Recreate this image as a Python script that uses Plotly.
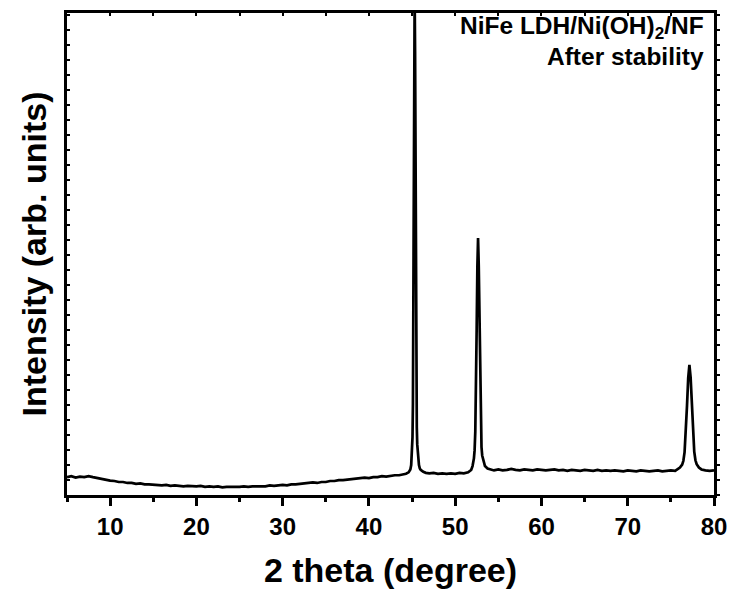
import plotly.graph_objects as go

# 2θ (degree) and intensity (arb. units, 0-1000 scale)
two_theta = [
    5.0, 5.5, 6.0, 6.5, 7.0, 7.5, 8.0, 8.5, 9.0, 9.5,
    10.0, 10.5, 11.0, 11.5, 12.0, 12.5, 13.0, 13.5, 14.0, 14.5,
    15.0, 15.5, 16.0, 16.5, 17.0, 17.5, 18.0, 18.5, 19.0, 19.5,
    20.0, 20.5, 21.0, 21.5, 22.0, 22.5, 23.0, 23.5, 24.0, 24.5,
    25.0, 25.5, 26.0, 26.5, 27.0, 27.5, 28.0, 28.5, 29.0, 29.5,
    30.0, 30.5, 31.0, 31.5, 32.0, 32.5, 33.0, 33.5, 34.0, 34.5,
    35.0, 35.5, 36.0, 36.5, 37.0, 37.5, 38.0, 38.5, 39.0, 39.5,
    40.0, 40.5, 41.0, 41.5, 42.0, 42.5, 43.0, 43.5, 44.0, 44.3,
    44.6, 44.8, 44.9, 45.0, 45.05, 45.1, 45.15, 45.2, 45.25, 45.3,
    45.35, 45.4, 45.45, 45.5, 45.55, 45.6, 45.7, 45.8, 45.9, 46.0,
    46.3, 46.6, 47.0, 47.5, 48.0, 48.5, 49.0, 49.5, 50.0, 50.5,
    51.0, 51.5, 51.85, 52.01, 52.17, 52.25, 52.33, 52.41, 52.49, 52.57,
    52.65, 52.73, 52.81, 52.89, 52.97, 53.05, 53.13, 53.29, 53.45, 53.75,
    54.25, 54.5, 55.0, 55.5, 56.0, 56.5, 57.0, 57.5, 58.0, 58.5,
    59.0, 59.5, 60.0, 60.5, 61.0, 61.5, 62.0, 62.5, 63.0, 63.5,
    64.0, 64.5, 65.0, 65.5, 66.0, 66.5, 67.0, 67.5, 68.0, 68.5,
    69.0, 69.5, 70.0, 70.5, 71.0, 71.5, 72.0, 72.5, 73.0, 73.5,
    74.0, 74.5, 75.0, 75.5, 75.75, 76.05, 76.31, 76.45, 76.59, 76.73,
    76.87, 77.01, 77.15, 77.29, 77.43, 77.57, 77.71, 77.85, 77.99, 78.25,
    78.55, 79.0, 79.5, 80.0,
]
intensity = [
    37, 39, 36, 38, 37, 39, 37, 35, 34, 31,
    30, 29, 27, 27, 25, 25, 23, 24, 22, 22,
    21, 21, 20, 21, 19, 20, 19, 18, 19, 18,
    18, 19, 17, 18, 17, 18, 16, 17, 17, 16,
    17, 18, 17, 18, 18, 19, 18, 20, 19, 20,
    21, 20, 22, 22, 23, 24, 24, 26, 25, 27,
    27, 29, 29, 31, 31, 32, 33, 34, 34, 36,
    35, 37, 37, 39, 38, 40, 41, 41, 43, 44,
    47, 53, 62, 90, 120, 190, 340, 600, 880, 1040,
    920, 660, 390, 215, 140, 105, 76, 62, 55, 52,
    48, 46, 45, 46, 44, 45, 44, 45, 44, 46,
    45, 47, 52, 60, 76, 93, 132, 214, 346, 474,
    533, 476, 350, 219, 138, 99, 82, 67, 60, 55,
    52, 51, 53, 51, 52, 54, 52, 51, 53, 52,
    51, 53, 52, 51, 52, 53, 51, 52, 50, 52,
    51, 50, 52, 51, 50, 52, 50, 51, 50, 51,
    50, 49, 51, 50, 49, 51, 50, 49, 50, 51,
    49, 50, 51, 50, 53, 57, 63, 71, 89, 126,
    185, 243, 270, 244, 187, 127, 90, 72, 64, 57,
    53, 51, 50, 51,
]

x_range = [5, 80]
y_range = [0, 1000]
x_tick_vals = [10, 20, 30, 40, 50, 60, 70, 80]
x_tick_text = ["10", "20", "30", "40", "50", "60", "70", "80"]

label_line1 = "NiFe LDH/Ni(OH)<sub>2</sub>/NF"
label_line2 = "After stability"
x_title = "2 theta (degree)"
y_title = "Intensity (arb. units)"

FONT = "Arial, Liberation Sans, sans-serif"

fig = go.Figure()
fig.add_trace(go.Scatter(
    x=two_theta, y=intensity, mode="lines",
    line=dict(color="black", width=2.7),
    showlegend=False, hoverinfo="skip",
))
# invisible copy to activate mirror axes (top / right)
fig.add_trace(go.Scatter(
    x=two_theta, y=intensity, mode="lines", xaxis="x2", yaxis="y2",
    line=dict(color="rgba(0,0,0,0)", width=0),
    showlegend=False, hoverinfo="skip",
))

fig.update_layout(
    width=734, height=594,
    margin=dict(l=67, r=20, t=13, b=99),
    paper_bgcolor="white", plot_bgcolor="white",
    font=dict(family=FONT, color="black"),
    xaxis=dict(
        range=x_range, showgrid=False, zeroline=False, automargin=False,
        showline=True, linecolor="black", linewidth=3,
        ticks="outside", ticklen=8, tickwidth=2.5, tickcolor="black",
        tickvals=x_tick_vals, ticktext=x_tick_text,
        tickfont=dict(family=FONT, size=24, weight="bold"),
        minor=dict(dtick=5, tick0=5, ticks="outside", ticklen=4, tickwidth=2.5, tickcolor="black", showgrid=False),
        title=dict(text=x_title, font=dict(family=FONT, size=34, weight="bold"), standoff=20),
    ),
    yaxis=dict(
        range=y_range, showgrid=False, zeroline=False, automargin=False,
        showline=True, linecolor="black", linewidth=3,
        ticks="inside", ticklen=3, tickwidth=1.5, tickcolor="black",
        tick0=0, dtick=31.1, showticklabels=False,
        title=dict(text=y_title, font=dict(family=FONT, size=34, weight="bold"), standoff=8),
    ),
    xaxis2=dict(
        range=x_range, overlaying="x", side="top", showgrid=False, zeroline=False, automargin=False,
        showline=True, linecolor="black", linewidth=3,
        ticks="inside", ticklen=3, tickwidth=1.5, tickcolor="black",
        tick0=5, dtick=5, showticklabels=False,
    ),
    yaxis2=dict(
        range=y_range, overlaying="y", side="right", showgrid=False, zeroline=False, automargin=False,
        showline=True, linecolor="black", linewidth=3,
        ticks="outside", ticklen=3, tickwidth=1.5, tickcolor="black",
        tick0=0, dtick=31.1, showticklabels=False,
    ),
    annotations=[
        dict(text=label_line1, xref="paper", yref="paper", x=0.9876, y=0.969,
             xanchor="right", yanchor="middle", showarrow=False,
             font=dict(family=FONT, size=24.5, weight="bold")),
        dict(text=label_line2, xref="paper", yref="paper", x=0.9876, y=0.909,
             xanchor="right", yanchor="middle", showarrow=False,
             font=dict(family=FONT, size=24.5, weight="bold")),
    ],
)

fig.write_html("out.html")
